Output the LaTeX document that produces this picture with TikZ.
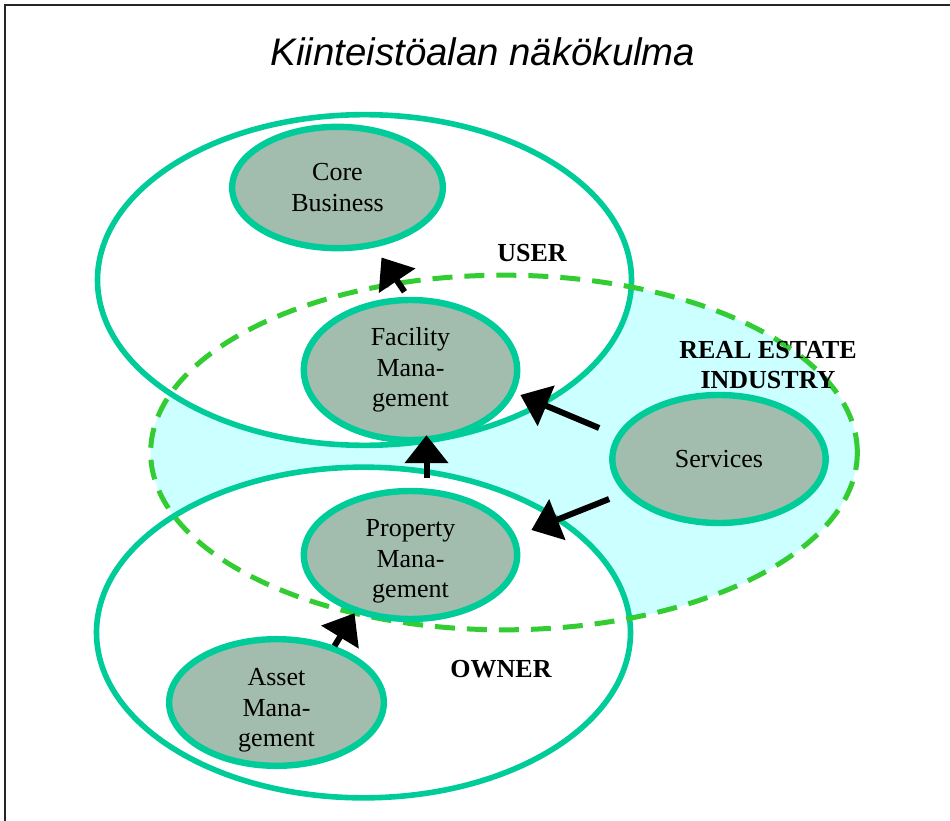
\documentclass[tikz,border=0pt]{standalone}
\usepackage{fontspec}
\setmainfont{Liberation Serif}
\newfontfamily\titlefont{Liberation Sans}
\usetikzlibrary{shapes.geometric,arrows.meta,calc}
\definecolor{tealline}{RGB}{0,204,153}
\definecolor{nodefill}{RGB}{162,189,174}
\definecolor{cyanfill}{RGB}{204,255,255}
\definecolor{dashgreen}{RGB}{51,204,51}
\begin{document}
\begin{tikzpicture}[x=0.75pt,y=-0.75pt,
  innerell/.style={ellipse, draw=tealline, line width=4.8pt, fill=nodefill, inner sep=0pt,
    align=center, font=\fontsize{19.5}{22.8}\selectfont, minimum width=160pt, minimum height=96pt},
  outerell/.style={ellipse, draw=tealline, line width=4.2pt, fill=white, inner sep=0pt,
    minimum width=400.5pt, minimum height=248pt},
  lab/.style={font=\fontsize{19.5}{22.5}\selectfont\bfseries, align=center, inner sep=0pt},
  arr/.style={line width=4.5pt, -{Triangle[length=21pt,width=32pt]}},
]
\useasboundingbox (0,0) rectangle (950,821);
\fill[white] (0,0) rectangle (950,821);
\draw[line width=1.5pt, black!85] (5,821) -- (5,5) -- (950,5);

\node (title) at (483,52) {\titlefont\itshape\fontsize{28.8}{34}\selectfont Kiinteistöalan näkökulma};

% real estate industry region (fill)
\node[ellipse, fill=cyanfill, inner sep=0pt, minimum width=530pt, minimum height=266pt] (rei) at (504,452.5) {};

% user and owner
\node[outerell] (user) at (364.5,280) {};
\node[outerell] (owner) at (363.5,632.5) {};

% dashed outline of real estate industry
\draw[dashgreen, line width=3.75pt, dash pattern=on 15pt off 9pt] (rei.center) ellipse [x radius=265pt, y radius=133pt];

% inner nodes
\node[innerell, minimum width=158pt, minimum height=91pt] (cb) at (337.5,187.5) {Core\\Business};
\node[innerell, minimum height=105pt] (fm) at (410.5,370) {Facility\\Mana-\\gement};
\node[innerell] (sv) at (719,459) {Services};
\node[innerell, inner ysep=-6pt] (pm) at (410.5,555) {\rule{0pt}{22.5pt}Property\\Mana-\\gement};
\node[innerell, inner ysep=-6pt, minimum width=161pt, minimum height=95pt] (am) at (276.5,702.5) {\rule{0pt}{25pt}Asset\\Mana-\\gement};

% labels
\node[lab] (userlab) at (532,253) {USER};
\node[lab] (reilab) at (768,365) {REAL ESTATE\\INDUSTRY};
\node[lab] (ownerlab) at (501,669) {OWNER};

% arrows
\draw[arr] ([shift={(-6,-5)}]fm.north) -- ([shift={(44,70)}]cb.center);
\draw[arr] ([shift={(16,-10)}]pm.north) -- ([shift={(16,-8)}]fm.south);
\draw[arr] ([shift={(-10,-31)}]sv.west) -- ([shift={(0,25)}]fm.east);
\draw[arr] ([shift={(0,40)}]sv.west) -- ([shift={(11,-25)}]pm.east);
\draw[arr] ([shift={(58,10)}]am.north) -- ([shift={(-56,-9)}]pm.south);
\end{tikzpicture}
\end{document}
